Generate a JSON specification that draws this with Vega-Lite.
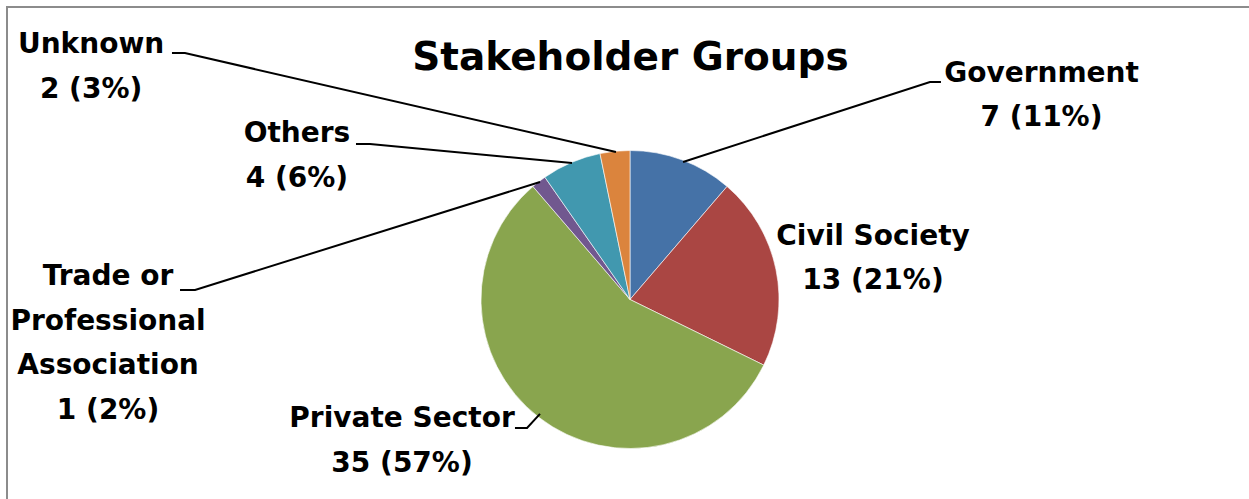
{
  "$schema": "https://vega.github.io/schema/vega-lite/v6.json",
  "width": 1246,
  "height": 585,
  "autosize": {"type": "none"},
  "padding": {"left": 7, "top": 7, "right": 0, "bottom": 0},
  "background": "#ffffff",
  "config": {"view": {"stroke": "#8c8c8c", "strokeWidth": 2}},
  "datasets": {
    "slices": [
      {"group": "Government", "count": 7, "rank": 1},
      {"group": "Civil Society", "count": 13, "rank": 2},
      {"group": "Private Sector", "count": 35, "rank": 3},
      {"group": "Trade or Professional Association", "count": 1, "rank": 4},
      {"group": "Others", "count": 4, "rank": 5},
      {"group": "Unknown", "count": 2, "rank": 6}
    ],
    "labels": [
      {"group": "Government", "text": "Government\n7 (11%)", "x": 2.762, "y": 1.46},
      {"group": "Civil Society", "text": "Civil Society\n13 (21%)", "x": 1.631, "y": 0.366},
      {"group": "Private Sector", "text": "Private Sector\n35 (57%)", "x": -1.53, "y": -0.856},
      {"group": "Trade or Professional Association", "text": "Trade or\nProfessional\nAssociation\n1 (2%)", "x": -3.503, "y": 0.097},
      {"group": "Others", "text": "Others\n4 (6%)", "x": -2.235, "y": 1.057},
      {"group": "Unknown", "text": "Unknown\n2 (3%)", "x": -3.617, "y": 1.654}
    ],
    "leaders": [
      {"group": "Unknown", "seq": 1, "x": -3.074, "y": 1.654},
      {"group": "Unknown", "seq": 2, "x": -2.987, "y": 1.654},
      {"group": "Unknown", "seq": 3, "x": -0.094, "y": 0.99},
      {"group": "Others", "seq": 1, "x": -1.839, "y": 1.044},
      {"group": "Others", "seq": 2, "x": -1.745, "y": 1.044},
      {"group": "Others", "seq": 3, "x": -0.389, "y": 0.916},
      {"group": "Trade", "seq": 1, "x": -3.02, "y": 0.064},
      {"group": "Trade", "seq": 2, "x": -2.919, "y": 0.064},
      {"group": "Trade", "seq": 3, "x": -0.604, "y": 0.789},
      {"group": "Private", "seq": 1, "x": -0.772, "y": -0.862},
      {"group": "Private", "seq": 2, "x": -0.691, "y": -0.862},
      {"group": "Private", "seq": 3, "x": -0.604, "y": -0.768},
      {"group": "Government", "seq": 1, "x": 2.087, "y": 1.46},
      {"group": "Government", "seq": 2, "x": 2.013, "y": 1.46},
      {"group": "Government", "seq": 3, "x": 0.356, "y": 0.923}
    ],
    "title": [{"text": "Stakeholder Groups", "x": 0.003, "y": 1.54}]
  },
  "layer": [
    {
      "data": {"name": "slices"},
      "mark": {"type": "arc", "outerRadius": 149, "stroke": "#ffffff", "strokeWidth": 0.6},
      "encoding": {
        "theta": {"field": "count", "type": "quantitative", "stack": true},
        "order": {"field": "rank", "type": "quantitative"},
        "color": {
          "field": "group",
          "type": "nominal",
          "legend": null,
          "scale": {
            "domain": ["Government", "Civil Society", "Private Sector", "Trade or Professional Association", "Others", "Unknown"],
            "range": ["#4572A7", "#AA4643", "#89A54E", "#71588F", "#4198AF", "#DB843D"]
          }
        }
      }
    },
    {
      "data": {"name": "leaders"},
      "mark": {"type": "line", "color": "#000000", "strokeWidth": 2},
      "encoding": {
        "x": {"field": "x", "type": "quantitative", "axis": null, "scale": {"domain": [-4.1812, 4.1812], "nice": false, "zero": false}},
        "y": {"field": "y", "type": "quantitative", "axis": null, "scale": {"domain": [-1.9631, 1.9631], "nice": false, "zero": false}},
        "detail": {"field": "group", "type": "nominal"},
        "order": {"field": "seq", "type": "quantitative"}
      }
    },
    {
      "data": {"name": "labels"},
      "mark": {"type": "text", "font": "DejaVu Sans", "fontWeight": "bold", "fontSize": 28, "lineHeight": 44.5, "lineBreak": "\n", "align": "center", "baseline": "alphabetic", "color": "#000000"},
      "encoding": {
        "x": {"field": "x", "type": "quantitative", "axis": null},
        "y": {"field": "y", "type": "quantitative", "axis": null},
        "text": {"field": "text", "type": "nominal"}
      }
    },
    {
      "data": {"name": "title"},
      "mark": {"type": "text", "font": "DejaVu Sans", "fontWeight": "bold", "fontSize": 39, "align": "center", "baseline": "alphabetic", "color": "#000000"},
      "encoding": {
        "x": {"field": "x", "type": "quantitative", "axis": null},
        "y": {"field": "y", "type": "quantitative", "axis": null},
        "text": {"field": "text", "type": "nominal"}
      }
    }
  ]
}
